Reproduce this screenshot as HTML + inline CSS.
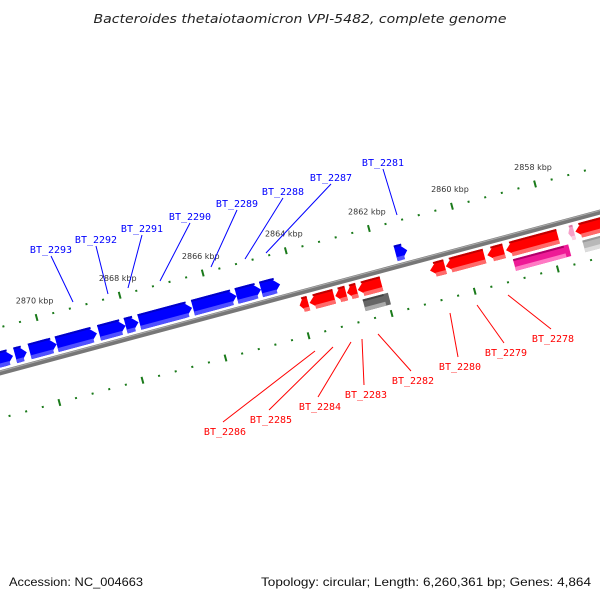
<!DOCTYPE html>
<html><head><meta charset="utf-8"><style>
html,body{margin:0;padding:0;background:#fff;}
svg{display:block;}
</style></head><body>
<svg id="chart" width="600" height="600" viewBox="0 0 600 600" xmlns="http://www.w3.org/2000/svg">
<rect width="600" height="600" fill="#fff"/>
<text x="300" y="23" text-anchor="middle" font-family="DejaVu Sans, sans-serif" font-style="italic" font-size="12.5" fill="#222" textLength="413" lengthAdjust="spacingAndGlyphs">Bacteroides thetaiotaomicron VPI-5482, complete genome</text>
<g id="frame" transform="translate(48,360) rotate(-15)">
  <line x1="-300" y1="0" x2="700" y2="0" stroke="#777" stroke-width="5"/>
  <line x1="-300" y1="-1.5" x2="700" y2="-1.5" stroke="#aaa" stroke-width="1"/>
</g>
<g id="labels"></g>
<text x="9" y="586" font-family="Liberation Sans, sans-serif" font-size="12" fill="#111" textLength="134" lengthAdjust="spacingAndGlyphs">Accession: NC_004663</text>
<text x="591" y="586" text-anchor="end" font-family="Liberation Sans, sans-serif" font-size="12" fill="#111" textLength="330" lengthAdjust="spacingAndGlyphs">Topology: circular; Length: 6,260,361 bp; Genes: 4,864</text>
</svg>
<script>
const NS='http://www.w3.org/2000/svg';
// data
const geneNames=['g1','g2','g3','BT_2293','BT_2292','BT_2291','BT_2290','BT_2289','BT_2288','BT_2287','BT_2281','BT_2286','BT_2285','BT_2284','BT_2283','BT_2282','BT_2280','BT_2279','BT_2278','g4','g5','g6','g7','g8','g9'];
const geneStart=[2871.2,2870.71,2870.36,2869.71,2868.69,2868.05,2867.72,2866.43,2865.38,2864.79,2861.55,2864.02,2863.78,2863.16,2862.88,2862.62,2860.88,2860.5,2859.5,2859.05,2862.57,2858.95,2857.55,2857.38,2857.28];
const geneEnd=[2870.76,2870.43,2869.71,2868.74,2868.05,2867.74,2866.45,2865.38,2864.79,2864.33,2861.27,2863.81,2863.19,2862.9,2862.64,2862.05,2860.52,2859.57,2859.1,2857.8,2861.96,2857.62,2857.41,2856.5,2856.5];
const geneStrand=[1,1,1,1,1,1,1,1,1,1,1,-1,-1,-1,-1,-1,-1,-1,-1,-1,0,0,-1,-1,0];
const geneRow=[1,1,1,1,1,1,1,1,1,1,1,1,1,1,1,1,1,1,1,1,2,2,1,1,2];
const geneColor=['blue','blue','blue','blue','blue','blue','blue','blue','blue','blue','blue','red','red','red','red','red','red','red','red','red','gray','magenta','pink','red','lightgray'];
const tickStart=2871.6, tickEnd=2856.4, tickStep=0.4, majorStep=2;
const kbpLabels=[2870,2868,2866,2864,2862,2860,2858];
const upperLabels=['BT_2293','BT_2292','BT_2291','BT_2290','BT_2289','BT_2288','BT_2287','BT_2281'];
const lowerLabels=['BT_2286','BT_2285','BT_2284','BT_2283','BT_2282','BT_2280','BT_2279','BT_2278'];

const S=43,REF=2870,ANG=-15*Math.PI/180,OX=48,OY=360;
function U(k){return (REF-k)*S;}
function P(k,v){const u=U(k);return [OX+u*Math.cos(ANG)-v*Math.sin(ANG), OY+u*Math.sin(ANG)+v*Math.cos(ANG)];}
const frame=document.getElementById('frame');
const labels=document.getElementById('labels');
const pal={blue:['#0000ff','#5050ff','#0000c8'],red:['#ff0000','#ff6a6a','#c00000'],gray:['#666','#aaa','#444'],magenta:['#ee1a96','#ff7ac4','#b0006a'],pink:['#f6a0c8','#fbd0e4','#e07aa8'],lightgray:['#b8b8b8','#dcdcdc','#999']};
function el(t,a,p){const e=document.createElementNS(NS,t);for(const k in a)e.setAttribute(k,a[k]);(p||frame).appendChild(e);return e;}
// ticks
for(const [v,side] of [[-44,'upper'],[44,'lower']]){
  for(let k=tickStart;k>=tickEnd-1e-6;k-=tickStep){
    const kk=Math.round(k*10)/10;
    const major=Math.abs(kk/majorStep-Math.round(kk/majorStep))<1e-6;
    const r=el('rect',major?{x:U(kk)-1,y:v-3.5,width:2,height:7,fill:'#1a7a1a'}:{x:U(kk)-1,y:v-1,width:2,height:2,fill:'#1a7a1a'});
    
    
  }
}
kbpLabels.forEach(k=>{const [x,y]=P(k,-44);
  const t=el('text',{x:x-2,y:y-14,'text-anchor':'middle','font-family':'DejaVu Sans, sans-serif','font-size':'8',fill:'#333'},labels);
  t.textContent=k+' kbp';
  
  });
// genes
geneNames.forEach((n,i)=>{
  let a=U(geneStart[i]),b=U(geneEnd[i]);const lo=Math.min(a,b),hi=Math.max(a,b);
  const row=geneRow[i],st=geneStrand[i];
  let v0,v1;
  if(st>0){v0=-21;v1=-5;}else if(row===1){v0=5;v1=20;}else{v0=23;v1=35;}
  const h=Math.min(8,(hi-lo)*0.6);const c=pal[geneColor[i]];const vm=(v0+v1)/2;
  let pts;
  if(st>0)pts=[[lo,v0],[hi-h,v0],[hi,vm],[hi-h,v1],[lo,v1]];
  else if(st<0)pts=[[lo+h,v0],[hi,v0],[hi,v1],[lo+h,v1],[lo,vm]];
  else pts=[[lo,v0],[hi,v0],[hi,v1],[lo,v1]];
  const g=el('polygon',{points:pts.map(p=>p.join(',')).join(' '),fill:c[0]});
  
  
  const band=el('rect',{x:lo+(st<0?h*0.6:0),y:v1-4,width:Math.max(0,hi-lo-h*0.6),height:4,fill:c[1]});
  
  
  const top=el('rect',{x:lo+(st<0?h*0.6:0),y:v0,width:Math.max(0,hi-lo-h*0.6),height:2,fill:c[2]});
  
  
});
// gene labels (callouts)
const upPos=[[51,249],[96,239],[142,228],[190,216],[237,203],[283,191],[331,177],[383,162]];
const upEnd=[[73,302],[108,294],[128,288],[160,281],[211,267],[245,259],[266,253],[397,215]];
const loPos=[[225,431],[271,419],[320,406],[366,394],[413,380],[460,366],[506,352],[553,338]];
const loEnd=[[315,351],[333,347],[351,342],[362,339],[378,334],[450,313],[477,305],[508,295]];
function callout(name,pos,end,color,up){
  const l=el('line',{x1:pos[0]+(up?0:-2),y1:up?pos[1]+7:pos[1]-9,x2:end[0],y2:end[1],stroke:color,'stroke-width':1},labels);
  
  
  const t=el('text',{x:pos[0],y:pos[1]+4,'text-anchor':'middle','font-family':'DejaVu Sans Mono, monospace','font-size':'10',fill:color},labels);
  t.textContent=name;
  
  
}
upperLabels.forEach((n,i)=>callout(n,upPos[i],upEnd[i],'#0000ff',true));
lowerLabels.forEach((n,i)=>callout(n,loPos[i],loEnd[i],'#ff0000',false));
</script>
</body></html>
